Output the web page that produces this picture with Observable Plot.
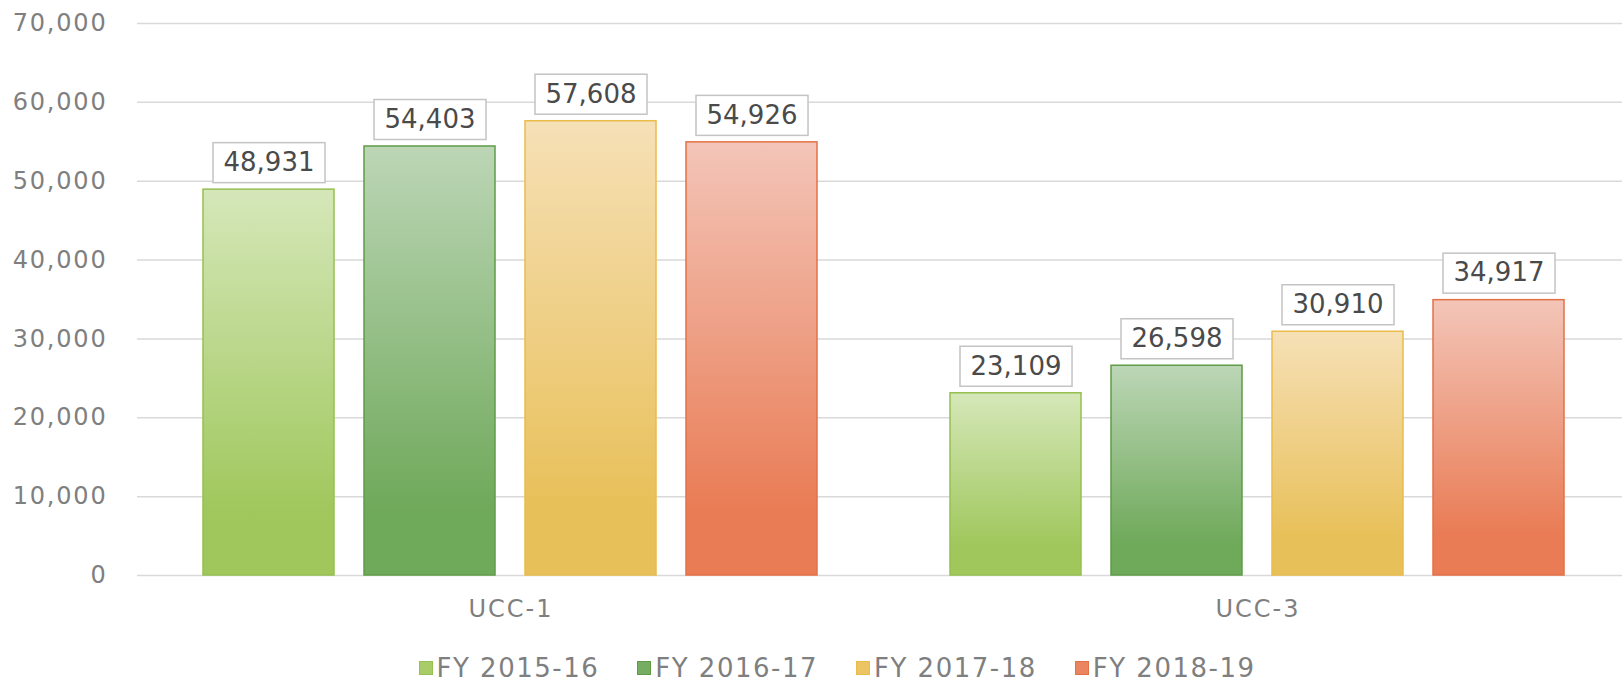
<!DOCTYPE html>
<html>
<head>
<meta charset="utf-8">
<script src="https://cdn.jsdelivr.net/npm/d3@7"></script>
<script src="https://cdn.jsdelivr.net/npm/@observablehq/plot@0.6"></script>
<style>
  html, body { margin: 0; padding: 0; background: #ffffff; }
  body { width: 1622px; height: 680px; overflow: hidden; font-family: "DejaVu Sans", sans-serif; }
  #chart svg { display: block; font-family: "DejaVu Sans", sans-serif; }
  g[aria-label="y-axis tick label"] text { letter-spacing: 1.8px; }
  g[aria-label="fx-axis tick label"] text { letter-spacing: 2px; }
  #legend { display: flex; justify-content: center; align-items: center; padding-top: 22px; padding-left: 52px; height: 28px; }
  .item { display: flex; align-items: center; margin: 0 19px; font-size: 26px; letter-spacing: 1.5px; color: #7f7f7f; line-height: 28px; }
  .sw { width: 14px; height: 14px; margin-right: 4px; box-sizing: border-box; border: 1px solid; }
</style>
</head>
<body>
<div id="chart"></div>
<div id="legend"></div>
<script>
// ---- data ----
const categories = ["UCC-1", "UCC-3"];
const series = ["FY 2015-16", "FY 2016-17", "FY 2017-18", "FY 2018-19"];
const ucc1Values = [48931, 54403, 57608, 54926];
const ucc3Values = [23109, 26598, 30910, 34917];
const yTicks = [0, 10000, 20000, 30000, 40000, 50000, 60000, 70000];

// ---- styles ----
const topColors = ["#d5e7b9", "#bcd6b6", "#f6e0b6", "#f3c5b8"];
const bottomColors = ["#9fc75b", "#6fa95a", "#e8c059", "#e97c55"];
const strokeColors = ["#96c04f", "#5f9c48", "#e9bc4c", "#e37148"];
const legendFill = ["#a8cc68", "#77ad62", "#ecc464", "#eb8561"];

const valuesByCat = [ucc1Values, ucc3Values];
const data = [];
categories.forEach((c, ci) => series.forEach((s, si) => data.push({cat: c, series: s, value: valuesByCat[ci][si]})));

const fmt = d3.format(",");

const boxedText = {
  render(index, scales, values, dimensions, context, next) {
    const g = next(index, scales, values, dimensions, context);
    const ns = "http://www.w3.org/2000/svg";
    for (const i of index) {
      const r = document.createElementNS(ns, "rect");
      const w = 112, h = 40;
      r.setAttribute("x", values.x[i] - w / 2);
      r.setAttribute("y", values.y[i] - h / 2);
      r.setAttribute("width", w);
      r.setAttribute("height", h);
      r.setAttribute("fill", "#ffffff");
      r.setAttribute("stroke", "#c4c4c4");
      r.setAttribute("stroke-width", 1.5);
      g.insertBefore(r, g.firstChild);
    }
    return g;
  }
};

const chart = Plot.plot({
  width: 1622,
  height: 632,
  marginTop: 23,
  marginBottom: 57,
  marginLeft: 137,
  marginRight: -9,
  style: {background: "#ffffff", fontFamily: "DejaVu Sans, sans-serif"},
  fx: {domain: categories, padding: 0, label: null},
  x: {domain: series, axis: null, paddingInner: 0.184, paddingOuter: 0.402},
  y: {domain: [0, 70000], label: null},
  marks: [
    Plot.gridY(yTicks, {stroke: "#d9d9d9", strokeOpacity: 1, strokeWidth: 1.5}),
    Plot.axisY(yTicks, {tickSize: 0, tickPadding: 30, tickFormat: fmt, fontSize: 24, fill: "#7f7f7f", label: null}),
    Plot.axisFx({anchor: "bottom", tickSize: 0, tickPadding: 24, fontSize: 24, fill: "#7f7f7f", label: null}),
    ...series.map((s, si) => Plot.barY(data.filter(d => d.series === s), {
      fx: "cat", x: "series", y: "value",
      fill: `url(#grad${si})`, stroke: strokeColors[si], strokeWidth: 1.5
    })),
    Plot.text(data, {
      fx: "cat", x: "series", y: "value", text: d => fmt(d.value),
      dy: -27, lineAnchor: "middle", fontSize: 26, fill: "#4a4a4a",
      ariaLabel: "value label", ...boxedText
    })
  ]
});

// gradients for the bars (light at top, saturated at bottom)
const ns = "http://www.w3.org/2000/svg";
const svgEl = chart.tagName.toLowerCase() === "svg" ? chart : chart.querySelector("svg");
const defs = document.createElementNS(ns, "defs");
series.forEach((s, si) => {
  const lg = document.createElementNS(ns, "linearGradient");
  lg.setAttribute("id", `grad${si}`);
  lg.setAttribute("x1", "0"); lg.setAttribute("y1", "0");
  lg.setAttribute("x2", "0"); lg.setAttribute("y2", "1");
  [[0, topColors[si]], [0.85, bottomColors[si]], [1, bottomColors[si]]].forEach(([o, c]) => {
    const st = document.createElementNS(ns, "stop");
    st.setAttribute("offset", o);
    st.setAttribute("stop-color", c);
    lg.appendChild(st);
  });
  defs.appendChild(lg);
});
svgEl.insertBefore(defs, svgEl.firstChild);
document.getElementById("chart").appendChild(chart);

// legend
const legend = document.getElementById("legend");
series.forEach((s, si) => {
  const item = document.createElement("div");
  item.className = "item";
  const sw = document.createElement("span");
  sw.className = "sw";
  sw.style.background = legendFill[si];
  sw.style.borderColor = strokeColors[si];
  const t = document.createElement("span");
  t.textContent = s;
  item.appendChild(sw);
  item.appendChild(t);
  legend.appendChild(item);
});
</script>
</body>
</html>
